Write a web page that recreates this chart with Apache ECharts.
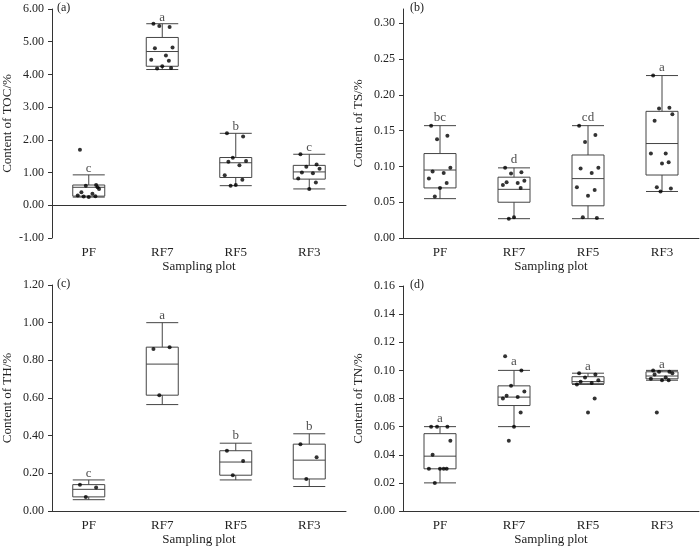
<!DOCTYPE html>
<html>
<head>
<meta charset="utf-8">
<script src="https://cdn.jsdelivr.net/npm/echarts@6/dist/echarts.min.js"></script>
<style>
  html, body { margin: 0; width: 100%; height: 100%; background: #fff; }
  #main { width: 700px; height: 547px; }
</style>
</head>
<body>
<div id="main"></div>
<script>
    var plots = ['PF', 'RF7', 'RF5', 'RF3'];
    // box stats [min, Q1, median, Q3, max]
    var tocBox = [[0.25, 0.28, 0.55, 0.62, 0.93], [4.15, 4.25, 4.70, 5.13, 5.55], [0.60, 0.85, 1.30, 1.46, 2.20], [0.50, 0.80, 1.02, 1.22, 1.56]];
    var tocPts = [[1.70, 0.62, 0.60, 0.50, 0.40, 0.35, 0.30, 0.28, 0.25, 0.27, 0.55],
                  [5.55, 5.45, 5.48, 4.82, 4.80, 4.58, 4.45, 4.42, 4.25, 4.18, 4.20],
                  [2.20, 2.10, 1.45, 1.35, 1.33, 1.22, 0.92, 0.78, 0.62, 0.60],
                  [1.56, 1.25, 1.18, 1.12, 1.00, 0.98, 0.82, 0.70, 0.50]];
    var tocSig = ['c', 'a', 'b', 'c'];
    var tocSigY = [1.13, 5.75, 2.42, 1.76];

    var tsBox = [[0.055, 0.070, 0.095, 0.118, 0.157], [0.027, 0.050, 0.068, 0.085, 0.098], [0.027, 0.045, 0.083, 0.116, 0.157], [0.065, 0.088, 0.132, 0.177, 0.227]];
    var tsPts = [[0.157, 0.143, 0.138, 0.098, 0.093, 0.091, 0.083, 0.077, 0.070, 0.058],
                 [0.098, 0.092, 0.090, 0.080, 0.078, 0.077, 0.074, 0.070, 0.029, 0.027],
                 [0.157, 0.144, 0.134, 0.098, 0.097, 0.091, 0.071, 0.067, 0.059, 0.029, 0.028],
                 [0.227, 0.182, 0.181, 0.173, 0.164, 0.118, 0.118, 0.106, 0.104, 0.071, 0.069, 0.065]];
    var tsSig = ['bc', 'd', 'cd', 'a'];
    var tsSigY = [0.168, 0.109, 0.168, 0.238];

    var thBox = [[0.06, 0.075, 0.115, 0.14, 0.165], [0.565, 0.615, 0.78, 0.87, 1.0], [0.165, 0.19, 0.26, 0.32, 0.36], [0.13, 0.17, 0.27, 0.355, 0.41]];
    var thPts = [[0.14, 0.125, 0.075], [0.86, 0.87, 0.615], [0.32, 0.265, 0.19], [0.355, 0.285, 0.17]];
    var thSig = ['c', 'b', 'b', 'b'];
    thSig[1] = 'a';
    var thSigY = [0.20, 1.04, 0.40, 0.45];

    var tnBox = [[0.02, 0.03, 0.039, 0.055, 0.06], [0.06, 0.075, 0.081, 0.089, 0.10], [0.090, 0.0905, 0.092, 0.0955, 0.098], [0.093, 0.094, 0.096, 0.099, 0.100]];
    var tnPts = [[0.06, 0.06, 0.06, 0.05, 0.04, 0.03, 0.03, 0.03, 0.03, 0.02],
                 [0.11, 0.10, 0.089, 0.085, 0.082, 0.081, 0.080, 0.07, 0.06, 0.05],
                 [0.098, 0.097, 0.095, 0.093, 0.092, 0.091, 0.090, 0.080, 0.070],
                 [0.100, 0.099, 0.099, 0.098, 0.097, 0.095, 0.094, 0.093, 0.093, 0.070]];
    var tnSig = ['a', 'a', 'a', 'a'];
    var tnSigY = [0.066, 0.106, 0.103, 0.104];

    // horizontal spread of the dots inside a box (in category widths)
    var jitter = [-0.12, 0.1, -0.04, 0.14, -0.1, 0.05, -0.15, 0.09, 0.0, -0.07, 0.12, -0.02];

    var FONT = 'Liberation Serif';
    var panels = [
        {box: tocBox, pts: tocPts, sig: tocSig, sigY: tocSigY, name: 'Content of TOC/%', min: -1, max: 6, step: 1, dec: 2, tag: '(a)', left: 50, top: 9, height: 229},
        {box: tsBox, pts: tsPts, sig: tsSig, sigY: tsSigY, name: 'Content of TS/%', min: 0, max: 0.32, step: 0.05, dec: 2, tag: '(b)', left: 403, top: 9, height: 229},
        {box: thBox, pts: thPts, sig: thSig, sigY: thSigY, name: 'Content of TH/%', min: 0, max: 1.2, step: 0.2, dec: 2, tag: '(c)', left: 50, top: 285, height: 230},
        {box: tnBox, pts: tnPts, sig: tnSig, sigY: tnSigY, name: 'Content of TN/%', min: 0, max: 0.16, step: 0.02, dec: 2, tag: '(d)', left: 403, top: 286, height: 229}
    ];

    var grid = [], xAxis = [], yAxis = [], series = [], graphic = [];
    var lineStyle = {color: '#333', width: 1};
    panels.forEach(function (p, i) {
        grid.push({left: p.left, top: p.top, width: 296, height: p.height});
        xAxis.push({
            gridIndex: i, type: 'category', data: plots,
            name: 'Sampling plot', nameLocation: 'middle', nameGap: 22,
            nameTextStyle: {fontFamily: FONT, fontSize: 13, color: '#222'},
            axisLine: {lineStyle: lineStyle},
            axisTick: {alignWithLabel: true, length: 4, lineStyle: lineStyle},
            axisLabel: {fontFamily: FONT, fontSize: 13, color: '#222', margin: 8}
        });
        xAxis.push({gridIndex: i, type: 'value', min: 0, max: 4, show: false});
        yAxis.push({
            gridIndex: i, type: 'value', min: p.min, max: p.max, interval: p.step,
            name: p.name, nameLocation: 'middle', nameGap: 38,
            nameTextStyle: {fontFamily: FONT, fontSize: 13, color: '#222'},
            splitLine: {show: false},
            axisLine: {show: true, lineStyle: lineStyle},
            axisTick: {show: true, length: 4, lineStyle: lineStyle},
            axisLabel: {fontFamily: FONT, fontSize: 12, color: '#222', showMaxLabel: p.max === 0.32 ? false : true,
                formatter: function (v) { return v.toFixed(p.dec); }}
        });
        series.push({
            type: 'boxplot', xAxisIndex: 2 * i, yAxisIndex: i, data: p.box, boxWidth: [32, 32],
            itemStyle: {color: '#fff', borderColor: '#444', borderWidth: 1}
        });
        var dots = [];
        p.pts.forEach(function (arr, c) {
            arr.forEach(function (v, k) { dots.push([c + 0.5 + jitter[k % jitter.length], v]); });
        });
        series.push({
            type: 'scatter', xAxisIndex: 2 * i + 1, yAxisIndex: i, data: dots,
            symbolSize: 4, itemStyle: {color: '#000'}, z: 5
        });
        series.push({
            type: 'scatter', xAxisIndex: 2 * i, yAxisIndex: i, symbolSize: 0,
            data: p.sig.map(function (s, c) { return {value: [c, p.sigY[c]], name: s}; }),
            label: {show: true, position: 'inside', formatter: '{b}', fontFamily: FONT, fontSize: 13, color: '#222'}
        });
        graphic.push({type: 'text', left: p.left + 7, top: p.top - 7,
            style: {text: p.tag, fontFamily: FONT, fontSize: 12, fill: '#222'}});
    });

    var chart = echarts.init(document.getElementById('main'));
    chart.setOption({
        animation: false,
        grid: grid, xAxis: xAxis, yAxis: yAxis, series: series, graphic: graphic
    });
</script>
</body>
</html>
